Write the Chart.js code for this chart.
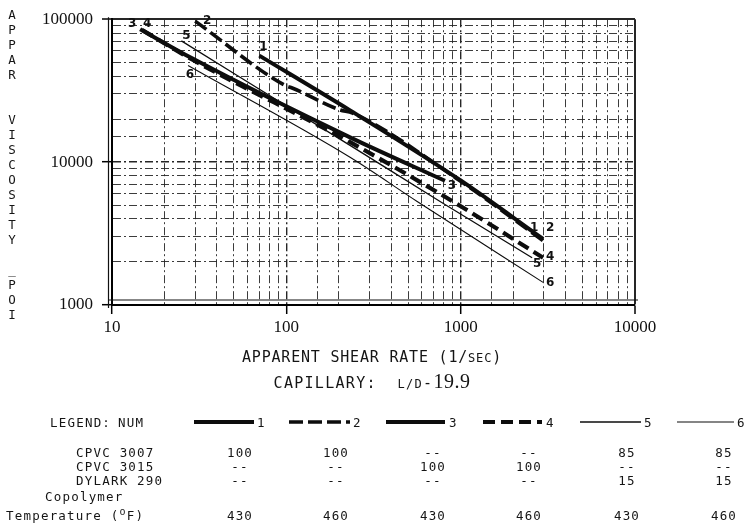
<!DOCTYPE html>
<html><head><meta charset="utf-8">
<script src="https://cdn.jsdelivr.net/npm/chart.js@4"></script>
<style>
html,body{margin:0;padding:0;background:#fff;}
#wrap{position:relative;width:744px;height:529px;overflow:hidden;background:#fff;}
#c{position:absolute;left:0;top:0;}
.t{position:absolute;white-space:nowrap;color:#151515;font-family:"DejaVu Sans Mono",monospace;font-size:12.5px;line-height:14px;letter-spacing:1.2px;}
.c{transform:translateX(-50%);}
</style></head><body>
<div id="wrap"><canvas id="c" width="744" height="529"></canvas></div>
<script>
// ---- data ----
const xTickLabels = ['10','100','1000','10000'];
const yTickLabels = ['1000','10000','100000'];
const curveNames = ['1','2','3','4','5','6'];

const shear1 = [70, 232, 990, 2970];
const visc1  = [55600, 23000, 7500, 2900];
const shear2 = [30, 98, 108, 203, 240, 990, 2970];
const visc2  = [97000, 34500, 33000, 23200, 22000, 7400, 2820];
const shear3 = [14.5, 29, 232, 813];
const visc3  = [85000, 53000, 14900, 7400];
const shear4 = [14.9, 29, 232, 990, 2970];
const visc4  = [84000, 52000, 13800, 4950, 2140];
const shear5 = [25, 232, 762, 2570];
const visc5  = [70500, 13100, 5300, 2140];
const shear6 = [27.3, 232, 563, 2970];
const visc6  = [47400, 10800, 5300, 1440];

const rowNames   = ['CPVC 3007','CPVC 3015','DYLARK 290'];
const cpvc3007   = ['100','100','--','--','85','85'];
const cpvc3015   = ['--','--','100','100','--','--'];
const dylark290  = ['--','--','--','--','15','15'];
const temperature= ['430','460','430','460','430','460'];

// ---- styles / layout ----
const lineWidths = [4, 3.6, 4, 4.2, 1.3, 1.1];
const lineDashes = [[], [14,5], [], [12,6], [], []];
const startOff = [[4,-9],[12,0],[-8,-5],[5,-6],[5,-5],[2,9]];
const endOff   = [[-9,-11],[7,-13],[7,5],[7,-1],[5,6],[7,1]];
const legendX  = [[194,254],[289,350],[386,445],[483,542],[580,641],[677,734]];
const legendNumX = [257,353,449,546,644,737];
const colX = [240,336,433,529,627,724];

const shears = [shear1,shear2,shear3,shear4,shear5,shear6];
const viscs  = [visc1,visc2,visc3,visc4,visc5,visc6];

const isDecade = v => v > 0 && Math.abs(Math.log10(v) - Math.round(Math.log10(v))) < 1e-9;

const datasets = shears.map((sx,i)=>({
  label: curveNames[i],
  data: sx.map((x,j)=>({x:x, y:viscs[i][j]})),
  showLine: true,
  borderColor: '#0d0d0d',
  borderWidth: lineWidths[i],
  borderDash: lineDashes[i],
  pointRadius: 0,
  cubicInterpolationMode: 'monotone',
  fill: false
}));

const overlay = {
  id: 'overlay',
  beforeDatasetsDraw(chart){
    const ctx = chart.ctx, a = chart.chartArea;
    ctx.save();
    ctx.strokeStyle = '#111';
    ctx.lineWidth = 1.2;
    ctx.beginPath();
    ctx.moveTo(a.left - 3.5, a.top - 2);
    ctx.lineTo(a.left - 3.5, a.bottom + 3);
    ctx.moveTo(a.left - 3, a.bottom - 5);
    ctx.lineTo(a.right + 3, a.bottom - 5);
    ctx.stroke();
    ctx.restore();
  },
  afterDatasetsDraw(chart){
    const ctx = chart.ctx, xs = chart.scales.x, ys = chart.scales.y;
    ctx.save();
    ctx.fillStyle = '#111';
    ctx.font = 'bold 12px "DejaVu Sans"';
    ctx.textAlign = 'center';
    ctx.textBaseline = 'middle';
    chart.data.datasets.forEach((ds,i)=>{
      const p0 = ds.data[0], p1 = ds.data[ds.data.length-1];
      ctx.fillText(curveNames[i], xs.getPixelForValue(p0.x)+startOff[i][0], ys.getPixelForValue(p0.y)+startOff[i][1]);
      ctx.fillText(curveNames[i], xs.getPixelForValue(p1.x)+endOff[i][0], ys.getPixelForValue(p1.y)+endOff[i][1]);
    });
    // legend samples
    chart.data.datasets.forEach((ds,i)=>{
      ctx.beginPath();
      ctx.lineWidth = ds.borderWidth;
      ctx.strokeStyle = '#0d0d0d';
      ctx.setLineDash(ds.borderDash);
      ctx.moveTo(legendX[i][0], 422);
      ctx.lineTo(legendX[i][1], 422);
      ctx.stroke();
    });
    ctx.restore();
  }
};

const gridDash = [8,3,2,3];
new Chart(document.getElementById('c'), {
  type: 'scatter',
  data: { datasets },
  plugins: [overlay],
  options: {
    responsive: false,
    animation: false,
    layout: { padding: { left: 0, right: 109, top: 15, bottom: 0 } },
    plugins: { legend: { display: false }, tooltip: { enabled: false } },
    scales: {
      x: {
        type: 'logarithmic', min: 10, max: 10000,
        afterFit: s => { s.height = 224; },
        grid: {
          color: '#262626',
          lineWidth: c => (c.tick && (c.tick.value === 10000)) ? 2 : (c.tick && isDecade(c.tick.value) ? 1.4 : 0.9),
          tickColor: c => (c.tick && isDecade(c.tick.value)) ? '#000' : 'rgba(0,0,0,0)',
          tickLength: 9, tickWidth: 1.5, tickBorderDash: []
        },
        border: { display: true, color: '#000', width: 2,
          dash: c => (c.tick && c.tick.value === 10000) ? [] : gridDash },
        ticks: {
          autoSkip: false, maxRotation: 0, padding: 3, color: '#111',
          font: { family: '"Liberation Serif"', size: 17 },
          callback: v => xTickLabels.includes(String(v)) ? String(v) : ''
        }
      },
      y: {
        type: 'logarithmic', min: 1000, max: 100000,
        afterFit: s => { s.width = 112; },
        grid: {
          color: '#262626',
          lineWidth: c => (c.tick && (c.tick.value === 100000)) ? 2 : (c.tick && isDecade(c.tick.value) ? 1.4 : 0.9),
          tickColor: c => (c.tick && isDecade(c.tick.value)) ? '#000' : 'rgba(0,0,0,0)',
          tickLength: 10, tickWidth: 1.5, tickBorderDash: []
        },
        border: { display: true, color: '#000', width: 2,
          dash: c => (c.tick && c.tick.value === 100000) ? [] : gridDash },
        ticks: {
          autoSkip: false, padding: 9, color: '#111',
          font: { family: '"Liberation Serif"', size: 17 },
          callback: v => yTickLabels.includes(String(v)) ? String(v) : ''
        }
      }
    }
  }
});

// ---- text outside the plot ----
const wrap = document.getElementById('wrap');
function addText(html, left, top, cls, style){
  const d = document.createElement('div');
  d.className = 't' + (cls ? ' ' + cls : '');
  d.innerHTML = html;
  d.style.left = left + 'px';
  d.style.top = top + 'px';
  if (style) Object.assign(d.style, style);
  wrap.appendChild(d);
  return d;
}
// vertical y-axis title
const yTitle = 'APPAR  VISCOSITY _POI';
for (let i = 0; i < yTitle.length; i++) {
  if (yTitle[i] === ' ') continue;
  addText(yTitle[i], 12, 15 + 15*i - 7, 'c', {fontSize:'12.5px', letterSpacing:'0'});
}
addText('APPARENT SHEAR RATE (1/<span style="font-size:12px">SEC</span>)', 372, 349, 'c', {fontSize:'15px', lineHeight:'17px', letterSpacing:'0.8px'});
addText('CAPILLARY:&nbsp;&nbsp;<span style="font-size:12px">L/D</span>-<span style="font-family:\'Liberation Serif\';font-size:20px;letter-spacing:0.5px">19.9</span>', 372, 371, 'c', {fontSize:'15px', lineHeight:'20px', letterSpacing:'1.3px'});

addText('LEGEND:', 50, 416);
addText('NUM', 118, 416);
curveNames.forEach((n,i)=> addText(n, legendNumX[i], 416, '', {letterSpacing:'0'}));

const rowsY = [446, 460, 474];
[cpvc3007, cpvc3015, dylark290].forEach((vals, r)=>{
  addText(rowNames[r], 76, rowsY[r]);
  vals.forEach((v,i)=> addText(v, colX[i], rowsY[r], 'c'));
});
addText('Copolymer', 45, 490);
addText('Temperature (<sup style="font-size:10px;line-height:0">o</sup>F)', 6, 509);
temperature.forEach((v,i)=> addText(v, colX[i], 509, 'c'));
</script>
</body></html>
